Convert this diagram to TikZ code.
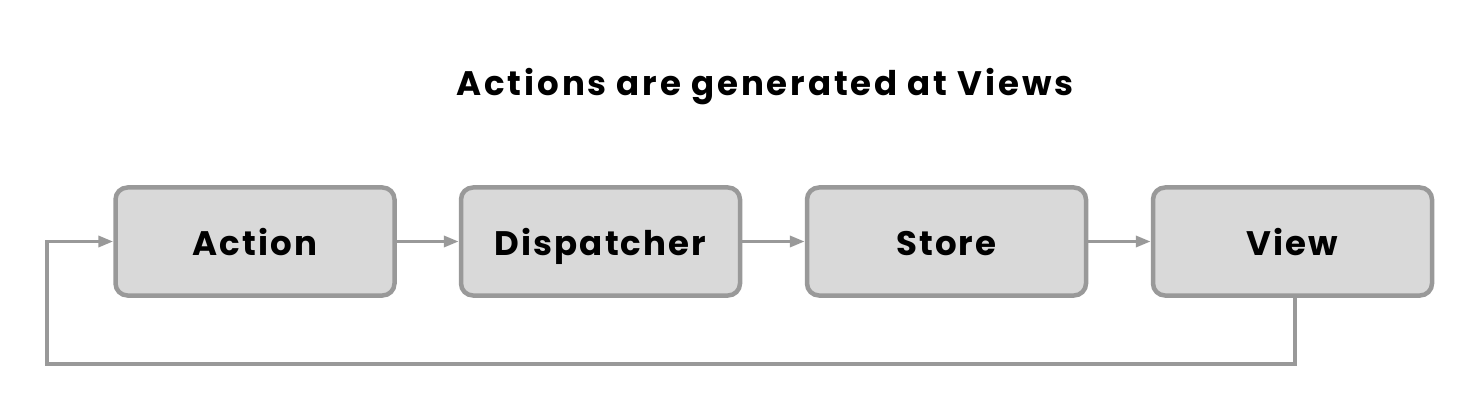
\documentclass[tikz,border=0pt]{standalone}
\usepackage{fontspec}
\setmainfont{Poppins}[UprightFont=* SemiBold, BoldFont=* Bold]
\usetikzlibrary{arrows.meta}
\definecolor{boxfill}{HTML}{D9D9D9}
\definecolor{edge}{HTML}{999999}
\begin{document}
\begin{tikzpicture}[x=1pt,y=-1pt,
  stepbox/.style={draw=edge, line width=4.5pt, fill=boxfill, rounded corners=12pt,
    minimum width=279pt, minimum height=108pt, inner sep=0pt, text height=30pt, text depth=3pt,
    font=\bfseries\fontsize{34}{40}\selectfont\addfontfeatures{LetterSpace=6}},
  link/.style={draw=edge, line width=3.5pt, -{Triangle[length=15pt,width=11pt]}}]
\useasboundingbox (0,0) rectangle (1474,406);
\node[anchor=base, font=\bfseries\fontsize{34}{40}\selectfont\addfontfeatures{LetterSpace=8.5}] (title) at (765,96) {Actions are generated at Views};
\node[stepbox] (action) at (255,241.5) {Action};
\node[stepbox] (disp) at (600.5,241.5) {Dispatcher};
\node[stepbox] (store) at (946.5,241.5) {Store};
\node[stepbox] (view) at (1292.5,241.5) {View};
\draw[link] (action) -- (disp);
\draw[link] (disp) -- (store);
\draw[link] (store) -- (view);
\coordinate (c1) at (1295,364);
\coordinate (c2) at (47,364);
\draw[link] (view.south -| c1) -- (c1) -- (c2) |- (action.west);
\end{tikzpicture}
\end{document}
